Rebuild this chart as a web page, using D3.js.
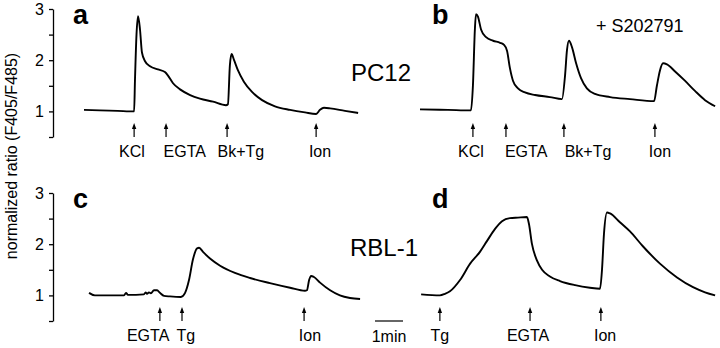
<!DOCTYPE html>
<html>
<head>
<meta charset="utf-8">
<script src="https://cdn.jsdelivr.net/npm/d3@7"></script>
<style>
  body { margin: 0; background: #fff; }
  svg { display: block; font-family: "Liberation Sans", Arial, Helvetica, sans-serif; }
</style>
</head>
<body>
<div id="chart"></div>
<script>
const width = 720;
const height = 348;

// traces: [time (min), normalized ratio]
const traceA = [[0,1.03],[0.57,1.02],[1.2,1.01],[1.79,1.0],[1.82,1.6],[1.875,2.5],[1.93,2.86],[2.0,2.6],[2.07,2.15],[2.18,1.98],[2.36,1.88],[2.64,1.82],[2.89,1.77],[3.0,1.7],[3.18,1.55],[3.43,1.43],[3.79,1.32],[4.14,1.25],[4.61,1.19],[5.07,1.12],[5.14,1.14],[5.21,1.9],[5.27,2.12],[5.36,2.0],[5.5,1.8],[5.71,1.58],[6.0,1.38],[6.36,1.22],[6.82,1.1],[7.36,1.03],[7.89,0.98],[8.29,0.95],[8.43,1.03],[8.57,1.07],[8.79,1.06],[9.32,1.01],[9.79,0.97]];
const traceB = [[0,1.04],[1.0,1.03],[1.82,1.02],[1.89,1.5],[1.96,2.6],[2.0,2.9],[2.07,2.85],[2.18,2.6],[2.36,2.45],[2.61,2.38],[2.86,2.34],[3.0,2.3],[3.11,2.18],[3.21,1.85],[3.32,1.6],[3.5,1.45],[3.75,1.37],[4.11,1.32],[4.64,1.28],[5.07,1.24],[5.18,1.7],[5.25,2.2],[5.32,2.38],[5.43,2.25],[5.57,1.95],[5.75,1.65],[5.96,1.45],[6.25,1.34],[6.79,1.28],[7.5,1.24],[8.36,1.2],[8.46,1.5],[8.57,1.8],[8.68,1.94],[8.82,1.92],[9.11,1.78],[9.46,1.6],[9.82,1.4],[10.18,1.22],[10.54,1.1]];
const traceC = [[0.18,1.05],[0.39,1.0],[1.43,1.0],[1.5,1.05],[1.57,1.01],[2.14,1.02],[2.2,1.06],[2.25,1.03],[2.32,1.06],[2.39,1.04],[2.5,1.1],[2.61,1.1],[2.71,1.05],[2.86,0.99],[3.07,0.98],[3.46,0.97],[3.61,1.05],[3.75,1.3],[3.89,1.7],[4.04,1.92],[4.11,1.93],[4.25,1.85],[4.5,1.72],[4.86,1.58],[5.39,1.44],[5.93,1.34],[6.64,1.24],[7.36,1.15],[7.89,1.09],[7.96,1.1],[8.04,1.3],[8.11,1.38],[8.21,1.36],[8.43,1.25],[8.79,1.1],[9.14,1.0],[9.5,0.95],[9.86,0.93]];
const traceD = [[0.04,1.02],[0.71,1.0],[0.89,1.03],[1.07,1.08],[1.43,1.3],[1.79,1.62],[2.14,1.85],[2.39,2.06],[2.68,2.3],[2.93,2.45],[3.21,2.51],[3.5,2.52],[3.82,2.53],[3.89,2.4],[4.0,2.0],[4.18,1.68],[4.36,1.5],[4.64,1.37],[5.0,1.28],[5.54,1.2],[6.07,1.15],[6.43,1.13],[6.5,1.5],[6.57,2.2],[6.68,2.62],[6.79,2.6],[7.14,2.43],[7.5,2.25],[7.96,1.96],[8.57,1.62],[9.18,1.35],[9.75,1.16],[10.18,1.06],[10.54,1.0]];

// additions: arrow time and label time
const namesA = ["KCl", "EGTA", "Bk+Tg", "Ion"];
const arrowsA = [1.79, 2.93, 5.11, 8.29];
const labelsA = [1.71, 3.6, 5.6, 8.43];
const namesB = ["KCl", "EGTA", "Bk+Tg", "Ion"];
const arrowsB = [1.89, 3.07, 5.14, 8.39];
const labelsB = [1.82, 3.79, 6.0, 8.57];
const namesC = ["EGTA", "Tg", "Ion"];
const arrowsC = [2.71, 3.5, 7.86];
const labelsC = [2.29, 3.64, 8.07];
const namesD = ["Tg", "EGTA", "Ion"];
const arrowsD = [0.71, 3.93, 6.46];
const labelsD = [0.71, 3.86, 6.61];

const yTicks = [0.5, 1, 1.5, 2, 2.5, 3];

const svg = d3.select("#chart").append("svg")
    .attr("width", width)
    .attr("height", height);

const xLeft = d3.scaleLinear().domain([0, 10]).range([84, 364]);
const xRight = d3.scaleLinear().domain([0, 10]).range([420, 700]);
const rowOffset = [0, 184];

const panels = [
    { letter: "a", trace: traceA, names: namesA, arrows: arrowsA, labels: labelsA, x: xLeft, row: 0 },
    { letter: "b", trace: traceB, names: namesB, arrows: arrowsB, labels: labelsB, x: xRight, row: 0 },
    { letter: "c", trace: traceC, names: namesC, arrows: arrowsC, labels: labelsC, x: xLeft, row: 1 },
    { letter: "d", trace: traceD, names: namesD, arrows: arrowsD, labels: labelsD, x: xRight, row: 1 }
];

panels.forEach(p => {
    const off = rowOffset[p.row];
    const y = d3.scaleLinear().domain([0.5, 3]).range([137 + off, 9 + off]);
    const g = svg.append("g");

    // y axis only on the left column
    if (p.x === xLeft) {
        const axis = g.append("g")
            .attr("transform", "translate(53,0)")
            .call(d3.axisLeft(y).tickValues(yTicks)
                .tickFormat(d => Number.isInteger(d) ? d : "")
                .tickSize(4).tickSizeOuter(0).tickPadding(5));
        axis.select(".domain").attr("stroke-width", 1.3);
        axis.selectAll(".tick line").attr("stroke-width", 1.3);
        axis.selectAll(".tick text")
            .attr("font-size", 16)
            .attr("font-family", "Liberation Sans, Arial, sans-serif");
    }

    const line = d3.line()
        .x(d => p.x(d[0]))
        .y(d => y(d[1]))
        .curve(d3.curveMonotoneX);

    g.append("path")
        .datum(p.trace)
        .attr("fill", "none")
        .attr("stroke", "#000")
        .attr("stroke-width", 1.9)
        .attr("stroke-linejoin", "round")
        .attr("d", line);

    // arrows
    const arrow = g.selectAll(".arrow")
        .data(p.arrows)
        .join("g")
        .attr("class", "arrow")
        .attr("transform", d => `translate(${p.x(d)},${123 + off})`);
    arrow.append("line")
        .attr("y1", 4).attr("y2", 14)
        .attr("stroke", "#000").attr("stroke-width", 1.2);
    arrow.append("path")
        .attr("d", "M0,0L2.2,6L-2.2,6Z")
        .attr("fill", "#000");

    g.selectAll(".lab")
        .data(p.names)
        .join("text")
        .attr("class", "lab")
        .attr("x", (d, i) => p.x(p.labels[i]))
        .attr("y", 157 + off)
        .attr("text-anchor", "middle")
        .attr("font-size", 16)
        .text(d => d);

    g.append("text")
        .attr("x", p.x === xLeft ? 73 : 432)
        .attr("y", 24 + off)
        .attr("font-size", 27)
        .attr("font-weight", "bold")
        .text(p.letter);
});

svg.append("text")
    .attr("x", 381).attr("y", 81)
    .attr("text-anchor", "middle")
    .attr("font-size", 24)
    .text("PC12");

svg.append("text")
    .attr("x", 384).attr("y", 256)
    .attr("text-anchor", "middle")
    .attr("font-size", 24)
    .text("RBL-1");

svg.append("text")
    .attr("x", 596).attr("y", 32)
    .attr("font-size", 18)
    .text("+ S202791");

svg.append("text")
    .attr("transform", "translate(17,156) rotate(-90)")
    .attr("text-anchor", "middle")
    .attr("font-size", 16)
    .text("normalized ratio (F405/F485)");

// 1 min scale bar
const barY = 321;
svg.append("line")
    .attr("x1", xRight(0) - 45).attr("x2", xRight(1) - 45)
    .attr("y1", barY).attr("y2", barY)
    .attr("stroke", "#000").attr("stroke-width", 1.2);
svg.append("text")
    .attr("x", xRight(0.5) - 45).attr("y", 342)
    .attr("text-anchor", "middle")
    .attr("font-size", 16)
    .text("1min");
</script>
</body>
</html>
